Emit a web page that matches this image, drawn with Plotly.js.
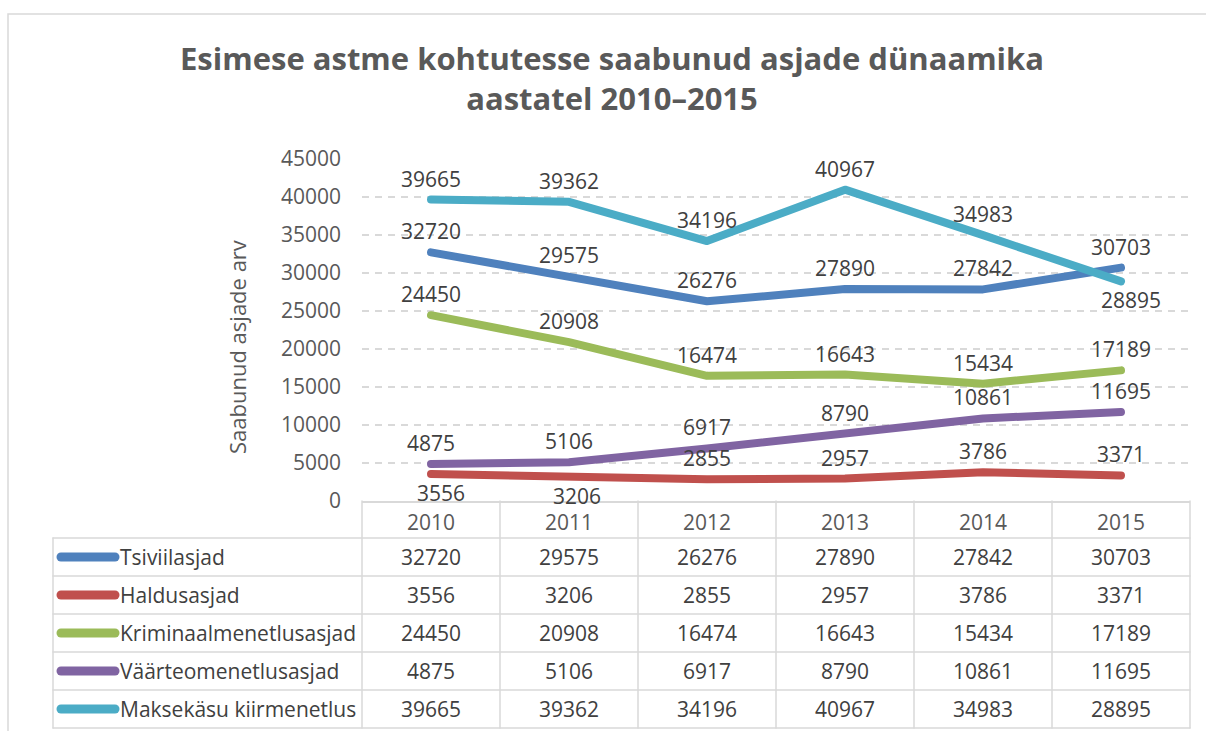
<!DOCTYPE html>
<html>
<head>
<meta charset="utf-8">
<script src="https://cdn.plot.ly/plotly-3.0.1.min.js"></script>
<style>
  html, body { margin: 0; padding: 0; background: #fff; }
  #chart { width: 1206px; height: 731px; }
  .scatterlayer .js-line { stroke-linecap: round; stroke-linejoin: round; }
  .shapelayer path { stroke-linecap: round; }
</style>
</head>
<body>
<div id="chart"></div>
<script>
// ---- data ----
const years = ["2010", "2011", "2012", "2013", "2014", "2015"];
const seriesNames = ["Tsiviilasjad", "Haldusasjad", "Kriminaalmenetlusasjad", "Väärteomenetlusasjad", "Maksekäsu kiirmenetlus"];
const tsiviil = [32720, 29575, 26276, 27890, 27842, 30703];
const haldus = [3556, 3206, 2855, 2957, 3786, 3371];
const kriminaal = [24450, 20908, 16474, 16643, 15434, 17189];
const vaarteo = [4875, 5106, 6917, 8790, 10861, 11695];
const maksekasu = [39665, 39362, 34196, 40967, 34983, 28895];
const titleText = "Esimese astme kohtutesse saabunud asjade dünaamika<br>aastatel 2010–2015";
const yTitle = "Saabunud asjade arv";

// ---- styling ----
const allSeries = [tsiviil, haldus, kriminaal, vaarteo, maksekasu];
const colors = ["#4F81BD", "#C0504D", "#9BBB59", "#8064A2", "#4BACC6"];
// label placement per series/point: 'a' above, 'b' below
const labelPos = [
  ["a","a","a","a","a","a"],
  ["b","b","a","a","a","a"],
  ["a","a","a","a","a","a"],
  ["a","a","a","a","a","a"],
  ["a","a","a","a","a","b"]
];
const labelXShift = [
  [0,0,0,0,0,0],
  [10,8,0,0,0,0],
  [0,0,0,0,0,0],
  [0,0,0,0,0,0],
  [0,0,0,0,0,10]
];

const FONT = "Open Sans, Lato, sans-serif";
const W = 1206, H = 731;
const L = 362, R = 16, T = 159, B = 230;
const plotW = W - L - R, plotH = H - T - B;
const px2x = px => (px - L) / plotW;
const py2y = py => (H - B - py) / plotH;

const traces = allSeries.map((vals, i) => ({
  type: "scatter",
  mode: "lines",
  x: years,
  y: vals,
  name: seriesNames[i],
  line: { color: colors[i], width: 8 },
  hoverinfo: "x+y+name",
  showlegend: false
}));

const annotations = [];
const shapes = [];

// data labels (x given as category index)
allSeries.forEach((vals, i) => {
  vals.forEach((v, j) => {
    const above = labelPos[i][j] === "a";
    annotations.push({
      x: j, y: v, xref: "x", yref: "y",
      text: String(v), showarrow: false,
      yanchor: above ? "bottom" : "top",
      yshift: above ? 5 : -3,
      xshift: labelXShift[i][j],
      font: { family: FONT, size: 21, color: "#404040" }
    });
  });
});

// y axis title
annotations.push({
  xref: "paper", yref: "paper", x: px2x(237), y: py2y(347),
  text: yTitle, textangle: -90, showarrow: false,
  xanchor: "center", yanchor: "middle",
  font: { family: FONT, size: 22, color: "#595959" }
});

// data table
const lineCol = "#D9D9D9";
const rowTop = 538, rowH = 38;
const tableLeft = 53, tableRight = W - R;
for (let r = 0; r <= seriesNames.length; r++) {
  const py = rowTop + r * rowH;
  shapes.push({ type: "line", xref: "paper", yref: "paper",
    x0: px2x(tableLeft), x1: px2x(tableRight), y0: py2y(py), y1: py2y(py),
    line: { color: lineCol, width: 1.5 } });
}
shapes.push({ type: "line", xref: "paper", yref: "paper",
  x0: px2x(tableLeft), x1: px2x(tableLeft), y0: py2y(rowTop), y1: py2y(rowTop + seriesNames.length * rowH),
  line: { color: lineCol, width: 1.5 } });
for (let c = 0; c <= years.length; c++) {
  const xpx = L + c * plotW / years.length;
  shapes.push({ type: "line", xref: "paper", yref: "paper",
    x0: px2x(xpx), x1: px2x(xpx), y0: py2y(H - B), y1: py2y(rowTop + seriesNames.length * rowH),
    line: { color: lineCol, width: 1.5 } });
}
seriesNames.forEach((name, i) => {
  const cy = rowTop + i * rowH + rowH / 2;
  shapes.push({ type: "line", xref: "paper", yref: "paper",
    x0: px2x(61), x1: px2x(115), y0: py2y(cy), y1: py2y(cy),
    line: { color: colors[i], width: 9 } });
  annotations.push({ xref: "paper", yref: "paper", x: px2x(118), y: py2y(cy),
    text: name, showarrow: false, xanchor: "left", yanchor: "middle",
    font: { family: FONT, size: 21, color: "#404040" } });
  allSeries[i].forEach((v, j) => {
    annotations.push({ xref: "x", yref: "paper", x: j, y: py2y(cy),
      text: String(v), showarrow: false, xanchor: "center", yanchor: "middle",
      font: { family: FONT, size: 21, color: "#404040" } });
  });
});

// outer chart frame
shapes.push({ type: "rect", xref: "paper", yref: "paper", layer: "below",
  x0: px2x(8), x1: px2x(W + 10), y0: py2y(H + 10), y1: py2y(14),
  line: { color: "#D9D9D9", width: 1.5 }, fillcolor: "rgba(0,0,0,0)" });

const layout = {
  width: W, height: H,
  margin: { l: L, r: R, t: T, b: B },
  paper_bgcolor: "#ffffff", plot_bgcolor: "#ffffff",
  title: {
    text: titleText,
    x: 612 / W, xanchor: "center", xref: "container",
    y: 1 - 70 / H, yanchor: "top", yref: "container",
    font: { family: FONT, size: 31, color: "#595959", weight: "bold" }
  },
  xaxis: {
    type: "category",
    range: [-0.5, years.length - 0.5],
    showgrid: false, zeroline: false,
    showline: true, linecolor: lineCol, linewidth: 1.5,
    ticks: "", ticklabelstandoff: 2,
    tickfont: { family: FONT, size: 21, color: "#595959" },
    fixedrange: true
  },
  yaxis: {
    range: [0, 45000], dtick: 5000, tick0: 0, tickformat: "d",
    showgrid: true, gridcolor: lineCol, gridwidth: 1.5, griddash: "7px,6px",
    zeroline: false, showline: false, ticks: "",
    ticklabelstandoff: 20,
    tickfont: { family: FONT, size: 21, color: "#595959" },
    fixedrange: true
  },
  showlegend: false,
  annotations: annotations,
  shapes: shapes
};

Plotly.newPlot("chart", traces, layout, { displayModeBar: false });
</script>
</body>
</html>
